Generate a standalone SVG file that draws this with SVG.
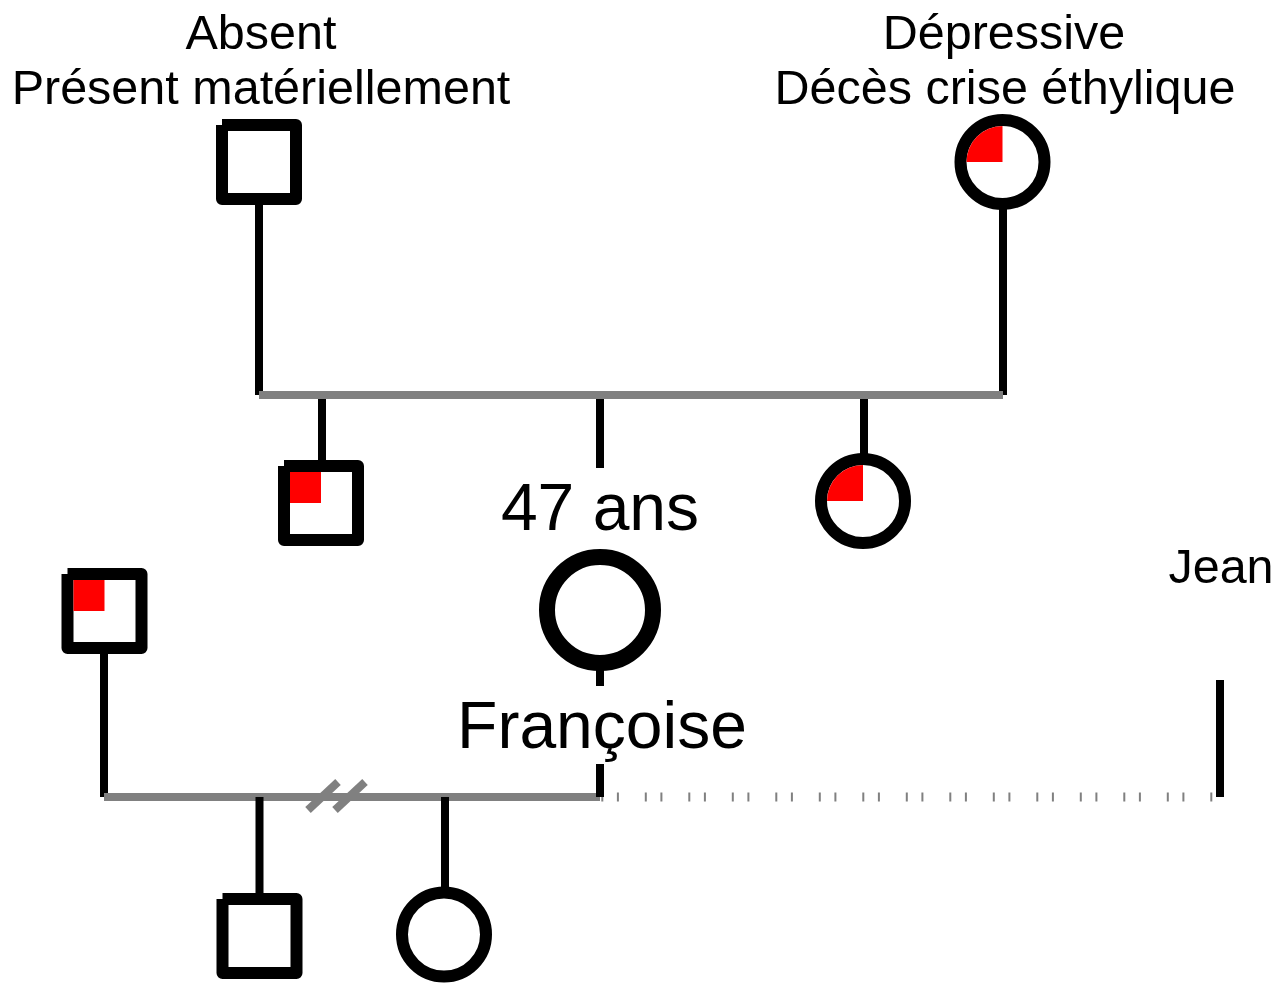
<svg xmlns="http://www.w3.org/2000/svg" width="1280" height="983" viewBox="0 0 1280 983">
  <style>
    .lbl { font-family: "Liberation Sans", Arial, sans-serif; fill: #000; text-anchor: middle; }
    .s48 { font-size: 48.5px; }
    .s64 { font-size: 66px; }
    .link { stroke: #000; stroke-width: 8; fill: none; }
    .union { stroke: #808080; stroke-width: 8; fill: none; }
    .dotted { stroke: #808080; stroke-width: 9; fill: none; stroke-dasharray: 2 13.6 2 25.9; }
    .male { fill: #fff; stroke: #000; stroke-width: 12; stroke-linejoin: round; }
    .female { fill: #fff; stroke: #000; stroke-width: 12; }
    .mark { fill: #f00; }
  </style>

  <!-- connectors -->
  <g id="connectors">
    <!-- first couple -->
    <line class="link" x1="259" y1="204" x2="259" y2="395"/>
    <line class="link" x1="1003" y1="208" x2="1003" y2="395"/>
    <line class="union" x1="259" y1="395" x2="1003" y2="395"/>
    <line class="link" x1="322" y1="399" x2="322" y2="462"/>
    <line class="link" x1="600" y1="399" x2="600" y2="468"/>
    <line class="link" x1="864" y1="399" x2="864" y2="455"/>
    <!-- second couple -->
    <line class="link" x1="104" y1="652" x2="104" y2="797"/>
    <line class="union" x1="104" y1="797" x2="600" y2="797"/>
    <line class="dotted" x1="601.3" y1="797" x2="1214" y2="797"/>
    <line class="link" x1="600" y1="670" x2="600" y2="686"/>
    <line class="link" x1="600" y1="764" x2="600" y2="797"/>
    <line class="link" x1="1220" y1="680" x2="1220" y2="797"/>
    <!-- divorce marks -->
    <line class="union" x1="308" y1="810" x2="338" y2="782"/>
    <line class="union" x1="335" y1="810" x2="365" y2="782"/>
    <!-- children -->
    <line class="link" x1="259.5" y1="797" x2="259.5" y2="895"/>
    <line class="link" x1="445" y1="797" x2="445" y2="889"/>
  </g>

  <!-- grandfather -->
  <g id="grandfather">
    <path class="male" d="M222 125 H296 V199 H222 V125"/>
    <text class="lbl s48" x="261" y="49">Absent</text>
    <text class="lbl s48" x="261" y="104">Présent matériellement</text>
  </g>

  <!-- grandmother -->
  <g id="grandmother">
    <circle class="female" cx="1002.5" cy="162" r="42"/>
    <path class="mark" d="M1002.5 162 H966.5 A36 36 0 0 1 1002.5 126 Z"/>
    <text class="lbl s48" x="1004" y="49">Dépressive</text>
    <text class="lbl s48" x="1005" y="104">Décès crise éthylique</text>
  </g>

  <!-- brother -->
  <g id="brother">
    <path class="male" d="M284 466 H358 V540 H284 V466"/>
    <rect class="mark" x="290" y="472" width="31" height="31"/>
  </g>

  <!-- sister -->
  <g id="sister">
    <circle class="female" cx="863" cy="501" r="42"/>
    <path class="mark" d="M863 501 H827 A36 36 0 0 1 863 465 Z"/>
  </g>

  <!-- Françoise -->
  <g id="francoise">
    <circle cx="600" cy="610" r="53" fill="#fff" stroke="#000" stroke-width="16"/>
    <text class="lbl s64" x="600" y="530">47 ans</text>
    <text class="lbl s64" x="602" y="748">Françoise</text>
  </g>

  <!-- first husband -->
  <g id="husband">
    <path class="male" d="M67.5 574 H141.5 V648 H67.5 V574"/>
    <rect class="mark" x="73.5" y="580" width="31" height="31"/>
  </g>

  <!-- Jean -->
  <g id="jean">
    <text class="lbl s48" x="1221" y="583">Jean</text>
  </g>

  <!-- son -->
  <g id="son">
    <path class="male" d="M222.5 899 H296.5 V973 H222.5 V899"/>
  </g>

  <!-- daughter -->
  <g id="daughter">
    <circle class="female" cx="444" cy="934.5" r="42"/>
  </g>
</svg>
